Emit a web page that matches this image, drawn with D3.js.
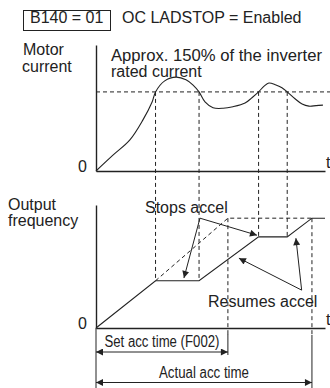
<!DOCTYPE html>
<html>
<head>
<meta charset="utf-8">
<script src="https://cdn.jsdelivr.net/npm/d3@7"></script>
<style>
  body { margin: 0; background: #fff; }
  svg text { font-family: "Liberation Sans", Arial, sans-serif; font-size: 16px; fill: #222; }
</style>
</head>
<body>
<div id="chart"></div>
<script>
// motor current (% of inverter rated current) over time
var currentTime  = [0, 0.74, 1.48, 2.05, 2.45, 2.6, 3.0, 3.5, 3.93, 4.24, 4.5, 4.76, 5.11, 5.55, 5.98, 6.51, 6.81, 7.1, 7.34, 7.55, 7.86, 8.12, 8.35, 8.69, 9.0, 9.3, 9.61, 9.91];
var currentValue = [0, 30, 59, 97, 131, 150, 171, 178, 173, 163, 150, 131, 120, 119, 122, 129, 139, 150, 161, 167, 163, 158, 150, 137, 127, 123, 124, 125];
var currentLimit = 150;

// output frequency (% of target) over time
var freqTime  = [0, 2.6, 4.5, 7.1, 8.35, 9.43, 10];
var freqValue = [0, 43, 43, 83, 83, 100, 100];

// set acceleration ramp (dashed) and key times
var setRampTime  = [2.6, 5.76, 9.43];
var setRampValue = [43, 100, 100];
var setAccTime = 5.76, actualAccTime = 9.43;
var stopTimes = [2.6, 4.5, 7.1, 8.35];
var stopLevels = [43, 43, 83, 83];

// annotation arrows: [vertex, tip1, tip2] as [time, freq]
var stopsArrow   = [[4.54, 100], [3.84, 45.5], [7.03, 84.5]];
var resumesArrow = [[8.98, 34.5], [6.24, 63.6], [8.73, 81.8]];

var width = 330, height = 388;

var svg = d3.select("#chart").append("svg")
    .attr("width", width)
    .attr("height", height);

var defs = svg.append("defs");
defs.append("marker")
    .attr("id", "arrow")
    .attr("viewBox", "0 0 10 10")
    .attr("refX", 10).attr("refY", 5)
    .attr("markerWidth", 9).attr("markerHeight", 7)
    .attr("markerUnits", "userSpaceOnUse")
    .attr("orient", "auto-start-reverse")
  .append("path")
    .attr("d", "M0,0L10,5L0,10Z")
    .attr("fill", "#222");

// scales
var x = d3.scaleLinear().domain([0, 10]).range([96, 325]);
var yCur = d3.scaleLinear().domain([0, 239]).range([171, 45]);
var yFreq = d3.scaleLinear().domain([0, 112]).range([328, 205]);

var ink = "#222";

// header
svg.append("rect")
    .attr("x", 23.5).attr("y", 10.5)
    .attr("width", 87).attr("height", 20)
    .attr("fill", "none").attr("stroke", ink).attr("stroke-width", 1);
svg.append("text").attr("x", 30).attr("y", 23).text("B140 = 01");
svg.append("text").attr("x", 122).attr("y", 23).text("OC LADSTOP = Enabled");

// labels
svg.append("text").attr("x", 23).attr("y", 55).text("Motor");
svg.append("text").attr("x", 22).attr("y", 72).text("current");
svg.append("text").attr("x", 8).attr("y", 210).text("Output");
svg.append("text").attr("x", 8).attr("y", 226).text("frequency");
svg.append("text").attr("x", 111).attr("y", 61)
    .attr("textLength", 211).attr("lengthAdjust", "spacingAndGlyphs")
    .text("Approx. 150% of the inverter");
svg.append("text").attr("x", 111).attr("y", 77).text("rated current");

// axes (no ticks)
function drawAxes(yScale, yLabel) {
  svg.append("g")
      .attr("transform", "translate(0," + yScale(0) + ")")
      .call(d3.axisBottom(x).tickValues([]).tickSizeOuter(0));
  svg.append("g")
      .attr("transform", "translate(" + x(0) + ",0)")
      .call(d3.axisLeft(yScale).tickValues([]).tickSizeOuter(0));
  svg.selectAll(".domain").attr("stroke", ink).attr("stroke-width", 1.4);
  svg.append("text").attr("x", 87).attr("y", yScale(0) + 1).attr("text-anchor", "end").text("0");
  svg.append("text").attr("x", 326).attr("y", yScale(0) + yLabel).text("t");
}
drawAxes(yCur, -3);
drawAxes(yFreq, -3);

var dashed = "4,3";

// current limit dashed line
svg.append("line")
    .attr("x1", x(0)).attr("x2", 330)
    .attr("y1", yCur(currentLimit)).attr("y2", yCur(currentLimit))
    .attr("stroke", ink).attr("stroke-dasharray", dashed);

// vertical guides from current limit crossings to frequency plateaus
svg.selectAll(".guide")
    .data(stopTimes)
    .enter().append("line")
    .attr("class", "guide")
    .attr("x1", function(d) { return x(d); })
    .attr("x2", function(d) { return x(d); })
    .attr("y1", yCur(currentLimit))
    .attr("y2", function(d, i) { return yFreq(stopLevels[i]); })
    .attr("stroke", ink).attr("stroke-dasharray", dashed);

// current curve
var curData = currentTime.map(function(t, i) { return [t, currentValue[i]]; });
svg.append("path")
    .datum(curData)
    .attr("fill", "none").attr("stroke", ink).attr("stroke-width", 1.1)
    .attr("d", d3.line().x(function(d) { return x(d[0]); }).y(function(d) { return yCur(d[1]); }).curve(d3.curveCatmullRom));

// set ramp dashed
var rampData = setRampTime.map(function(t, i) { return [t, setRampValue[i]]; });
var lineF = d3.line().x(function(d) { return x(d[0]); }).y(function(d) { return yFreq(d[1]); });
svg.append("path")
    .datum(rampData)
    .attr("fill", "none").attr("stroke", ink).attr("stroke-dasharray", dashed)
    .attr("d", lineF);

// vertical dashed at set/actual acc time
[setAccTime, actualAccTime].forEach(function(t) {
  svg.append("line")
      .attr("x1", x(t)).attr("x2", x(t))
      .attr("y1", yFreq(100)).attr("y2", 335)
      .attr("stroke", ink).attr("stroke-dasharray", dashed);
});

// frequency curve
var freqData = freqTime.map(function(t, i) { return [t, freqValue[i]]; });
svg.append("path")
    .datum(freqData)
    .attr("fill", "none").attr("stroke", ink).attr("stroke-width", 1.1)
    .attr("d", lineF);

// annotation arrows
function annotate(pts) {
  [pts[1], pts[2]].forEach(function(tip) {
    svg.append("line")
        .attr("x1", x(pts[0][0])).attr("y1", yFreq(pts[0][1]))
        .attr("x2", x(tip[0])).attr("y2", yFreq(tip[1]))
        .attr("stroke", ink).attr("stroke-width", 1)
        .attr("marker-end", "url(#arrow)");
  });
}
annotate(stopsArrow);
annotate(resumesArrow);

svg.append("text").attr("x", 145).attr("y", 213).text("Stops accel");
svg.append("text").attr("x", 208).attr("y", 307).text("Resumes accel");

// dimension lines
svg.append("line").attr("x1", x(0)).attr("x2", x(0)).attr("y1", 328).attr("y2", 388).attr("stroke", ink);
svg.append("line").attr("x1", x(setAccTime)).attr("x2", x(setAccTime)).attr("y1", 334).attr("y2", 355).attr("stroke", ink);
svg.append("line").attr("x1", x(actualAccTime)).attr("x2", x(actualAccTime)).attr("y1", 335).attr("y2", 388).attr("stroke", ink);

function dimension(t, yPos, label, textY, textLen) {
  svg.append("line")
      .attr("x1", x(0)).attr("x2", x(t))
      .attr("y1", yPos).attr("y2", yPos)
      .attr("stroke", ink)
      .attr("marker-start", "url(#arrow)")
      .attr("marker-end", "url(#arrow)");
  svg.append("text")
      .attr("x", (x(0) + x(t)) / 2).attr("y", textY)
      .attr("text-anchor", "middle")
      .attr("textLength", textLen)
      .attr("lengthAdjust", "spacingAndGlyphs")
      .text(label);
}
dimension(setAccTime, 352, "Set acc time (F002)", 347, 115);
dimension(actualAccTime, 382.5, "Actual acc time", 378, 90);
</script>
</body>
</html>
